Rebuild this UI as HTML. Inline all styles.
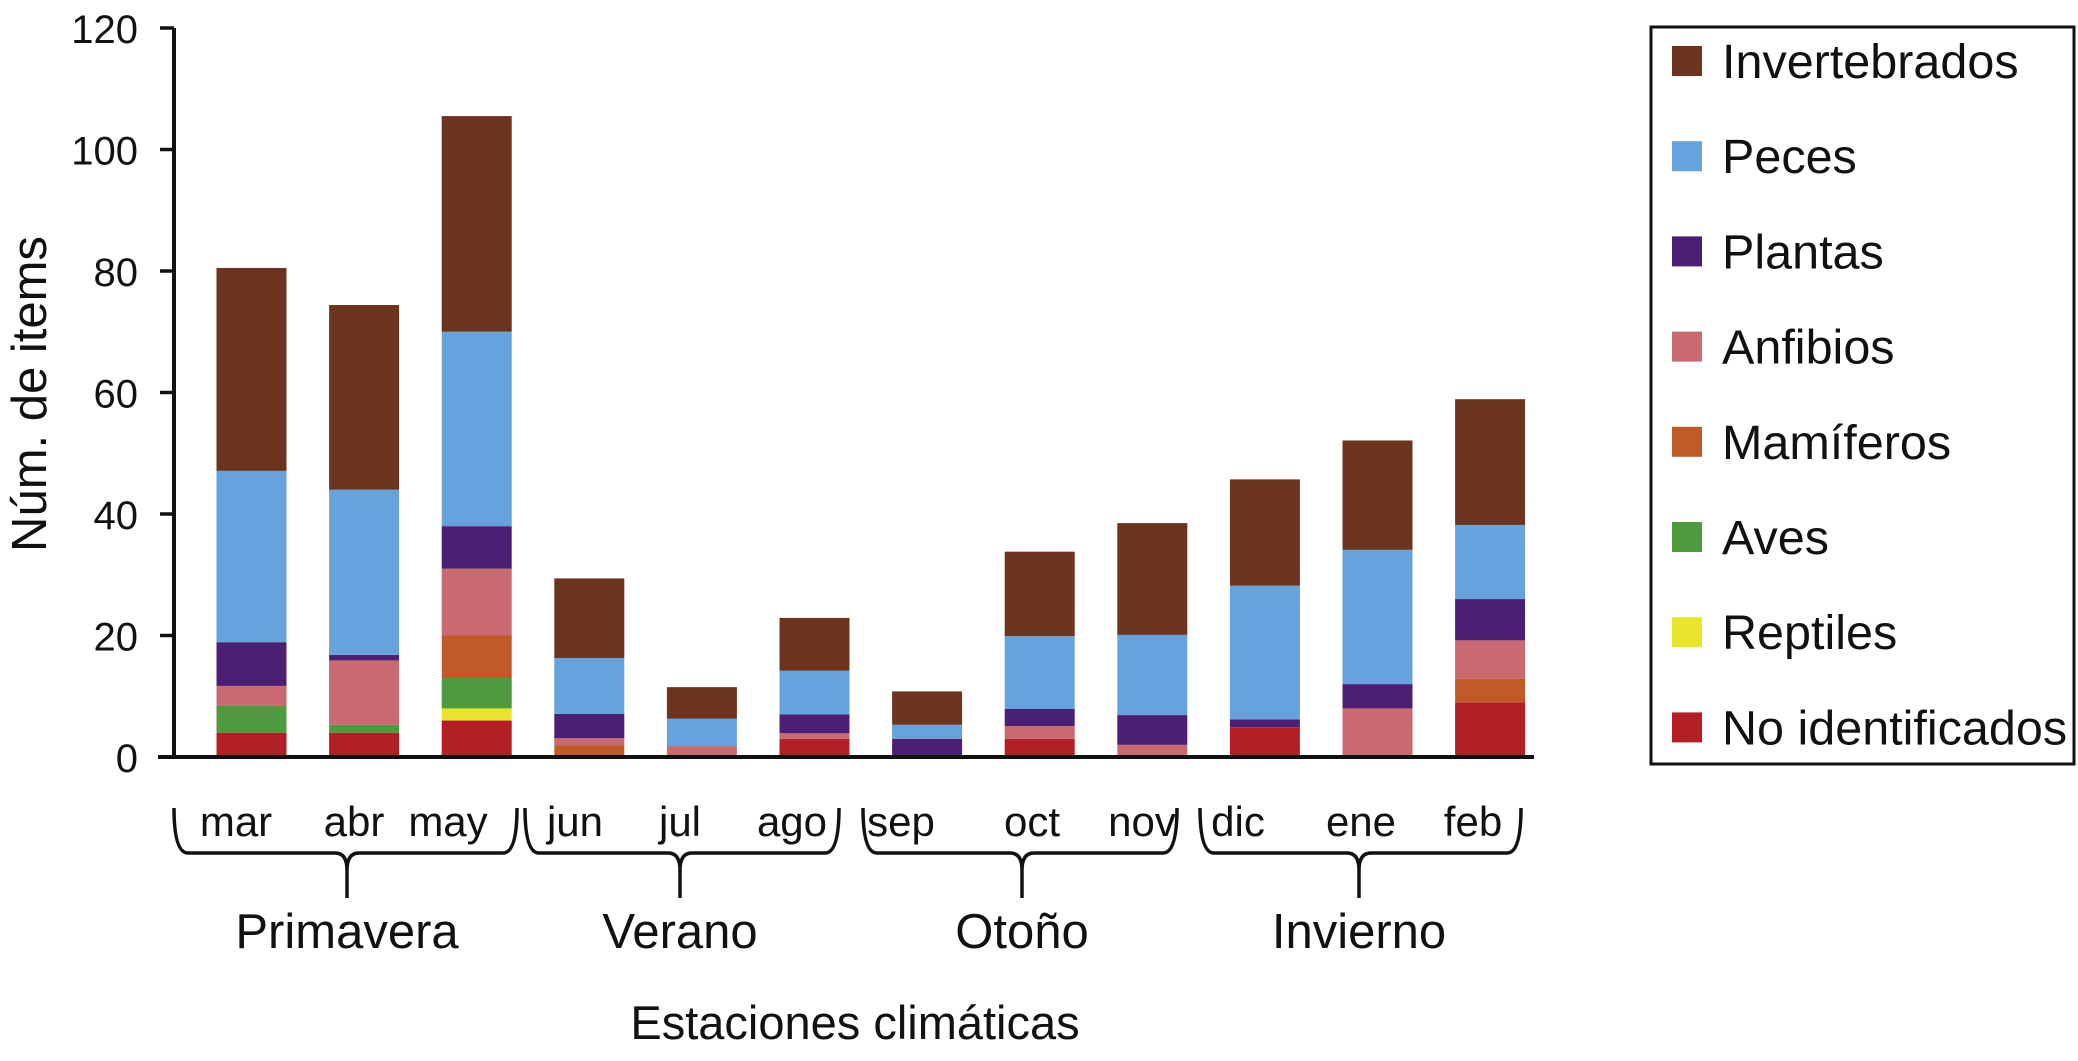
<!DOCTYPE html>
<html><head><meta charset="utf-8"><style>
html,body{margin:0;padding:0;background:#fff;}
svg{display:block;font-family:"Liberation Sans",Arial,sans-serif;}
</style></head><body>
<svg id="chart" width="2078" height="1061" viewBox="0 0 2078 1061" xmlns="http://www.w3.org/2000/svg">
<g id="bars"></g>
<g id="axes"></g>
<g id="legend"></g>
</svg>
<script>
const months = ["mar","abr","may","jun","jul","ago","sep","oct","nov","dic","ene","feb"];
const seriesNames = ["No identificados","Reptiles","Aves","Mamíferos","Anfibios","Plantas","Peces","Invertebrados"];
const noIdent   = [4,4,6,0,0,3,0,3,0,4.9,0,9];
const reptiles  = [0,0,2,0,0,0,0,0,0,0,0,0];
const aves      = [4.4,1.3,5,0,0,0,0,0,0,0,0,0];
const mamiferos = [0,0,7,1.9,0,0,0,0,0,0,0,3.9];
const anfibios  = [3.3,10.6,11,1.2,1.8,0.9,0,2.1,2,0,8,6.3];
const plantas   = [7.2,0.9,7,4,0,3.1,3,2.8,4.9,1.3,4,6.8];
const peces     = [28.2,27.2,32,9.2,4.5,7.2,2.3,12,13.2,22,22.1,12.2];
const invert    = [33.4,30.4,35.5,13.1,5.2,8.7,5.5,13.9,18.4,17.5,18,20.7];
const yTicks = [0,20,40,60,80,100,120];
const seasons = ["Primavera","Verano","Otoño","Invierno"];

const colors = ["#b22025","#e8e52c","#4e9a3e","#c05a27","#c96a70","#4b1f73","#66a3dc","#6b341e"];
const series = [noIdent,reptiles,aves,mamiferos,anfibios,plantas,peces,invert];
const NS="http://www.w3.org/2000/svg";
const y0=757, pxPerUnit=6.075, axisX=174;
function yScale(v){return y0 - v*pxPerUnit;}
function xCenter(i){return 251.5 + i*112.6;}
const barW=70;
function mk(tag,attrs,parent){const e=document.createElementNS(NS,tag);for(const k in attrs)e.setAttribute(k,attrs[k]);parent.appendChild(e);return e;}

const bars=document.getElementById('bars');
months.forEach((m,i)=>{
  let cum=0;
  series.forEach((s,k)=>{
    const v=s[i]; if(v<=0) return;
    const r=mk('rect',{x:xCenter(i)-barW/2,y:yScale(cum+v),width:barW,height:v*pxPerUnit,fill:colors[k]},bars);
    
    
    cum+=v;
  });
});

const axes=document.getElementById('axes');
let l=mk('line',{x1:axisX,y1:yScale(120),x2:axisX,y2:y0,stroke:'#111','stroke-width':4},axes);


l=mk('line',{x1:158,y1:y0,x2:1534,y2:y0,stroke:'#111','stroke-width':4},axes);


yTicks.forEach(t=>{
  const tk=mk('line',{x1:160,y1:yScale(t),x2:axisX,y2:yScale(t),stroke:'#111','stroke-width':3.5},axes);
  
  
  const tx=mk('text',{x:138,y:yScale(t)+15,'text-anchor':'end','font-size':40,fill:'#111'},axes);
  tx.textContent=t;
  
  
});
const yt=mk('text',{x:0,y:0,transform:'translate(46,394) rotate(-90)','text-anchor':'middle','font-size':49,fill:'#111'},axes);
yt.textContent='Núm. de items';



const monthX=[236,354,448,575,680,792,901,1032,1142,1238,1361,1473];
months.forEach((m,i)=>{
  const t=mk('text',{x:monthX[i],y:836,'text-anchor':'middle','font-size':42,fill:'#111'},axes);
  t.textContent=m;
  
  
});
const braces=[[174,517,347],[525,839,680],[863,1177,1022],[1200,1521,1359]];
braces.forEach((b,i)=>{
  const [a,c,s]=b;
  const d=`M${a},808 Q${a},853 ${a+14},853 L${s-12},853 Q${s},853 ${s},870 L${s},898 M${s},870 Q${s},853 ${s+12},853 L${c-14},853 Q${c},853 ${c},808`;
  const p=mk('path',{d:d,fill:'none',stroke:'#111','stroke-width':3.5},axes);
  
  
  const t=mk('text',{x:s,y:948,'text-anchor':'middle','font-size':49,fill:'#111'},axes);
  t.textContent=seasons[i];
  
  
});
const xt=mk('text',{x:855,y:1039,'text-anchor':'middle','font-size':47,fill:'#111'},axes);
xt.textContent='Estaciones climáticas';



const lg=document.getElementById('legend');
const box=mk('rect',{x:1651,y:27,width:423,height:737,fill:'none',stroke:'#111','stroke-width':3},lg);


for(let j=0;j<8;j++){
  const k=7-j;
  const cy=61+j*95.2;
  const sw=mk('rect',{x:1672,y:cy-15,width:30,height:30,fill:colors[k]},lg);
  
  
  const t=mk('text',{x:1722,y:cy+17,'font-size':48.5,fill:'#111'},lg);
  t.textContent=seriesNames[k];
  
  
}
</script>
</body></html>
